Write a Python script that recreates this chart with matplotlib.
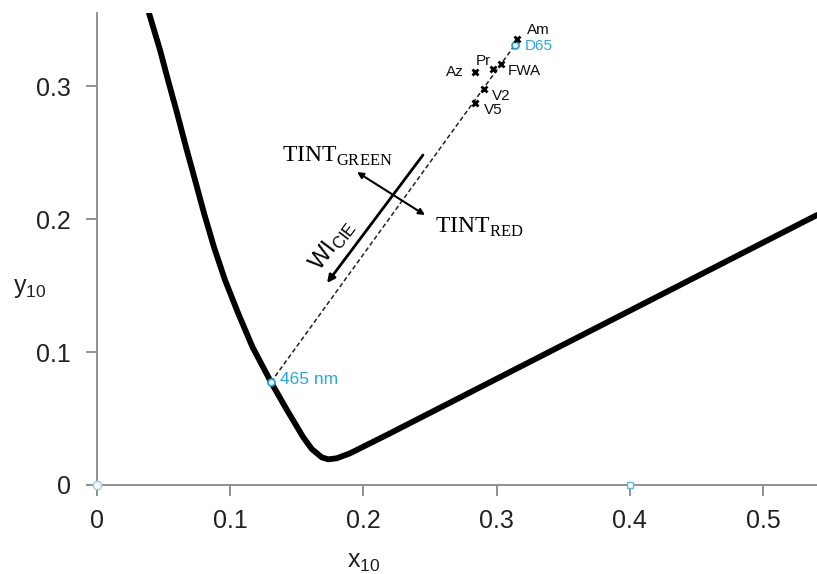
import numpy as np
import matplotlib.pyplot as plt

# spectral locus (lower part) and purple line
locus_x = [0.0390, 0.0473, 0.0533, 0.0601, 0.0668, 0.0736, 0.0803, 0.0878, 0.0961,
           0.1059, 0.1167, 0.1306, 0.1426, 0.1547, 0.1612, 0.1687, 0.1736, 0.1800,
           0.1899, 0.2025, 0.2175, 0.5405]
locus_y = [0.3549, 0.3271, 0.3045, 0.2797, 0.2541, 0.2293, 0.2045, 0.1789, 0.1541,
           0.1293, 0.1038, 0.0774, 0.0564, 0.0361, 0.0271, 0.0208, 0.0193, 0.0201,
           0.0238, 0.0301, 0.0376, 0.2030]

# dominant wavelength point and white point
nm465 = (0.1306, 0.0774)
d65 = (0.3138, 0.3310)

# samples
samples = ['Am', 'Pr', 'FWA', 'Az', 'V2', 'V5']
samp_x = [0.3156, 0.2971, 0.3033, 0.2838, 0.2905, 0.2838]
samp_y = [0.3353, 0.3126, 0.3163, 0.3108, 0.2975, 0.2875]
# label offsets (points) and alignment
samp_off = [(7, 6.5), (-7, 6), (4.5, -5), (-8, 0), (6, -4.5), (6.5, -5)]
samp_ha = ['left', 'center', 'left', 'right', 'left', 'left']

xticks = [0, 0.1, 0.2, 0.3, 0.4, 0.5]
yticks = [0, 0.1, 0.2, 0.3]
xticklabels = ['0', '0.1', '0.2', '0.3', '0.4', '0.5']
yticklabels = ['0', '0.1', '0.2', '0.3']

blue = '#22a9e6'
sans = ['Liberation Sans', 'DejaVu Sans']
serif = ['Liberation Serif', 'DejaVu Serif']
plt.rcParams['font.family'] = sans
plt.rcParams['mathtext.fontset'] = 'custom'
plt.rcParams['mathtext.rm'] = 'Liberation Sans'

fig = plt.figure(figsize=(8.17, 5.74), dpi=100)
ax = fig.add_axes([97 / 817, 89 / 574, 720 / 817, 472 / 574])
ax.set_xlim(0, 0.5405)
ax.set_ylim(0, 0.3549)

ax.plot(locus_x, locus_y, color='black', lw=4.2, solid_joinstyle='round',
        solid_capstyle='round', zorder=3)

# WI line from 465 nm to D65
ax.plot([nm465[0], d65[0]], [nm465[1], d65[1]], color='#222222', lw=1.1,
        linestyle=(0, (3, 1.8)), zorder=2)

ax.plot(*nm465, 'o', ms=5, mfc='#dff3fb', mec='#2aa0c8', mew=1.3, zorder=5)
ax.annotate('465 nm', nm465, xytext=(6.5, 2), textcoords='offset points',
            ha='left', va='center', fontsize=12.5, color=blue)

ax.plot(*d65, 'o', ms=5, mfc='#dff3fb', mec='#2aa0c8', mew=1.3, zorder=5)
ax.annotate('D65', d65, xytext=(7, -0.7), textcoords='offset points',
            ha='left', va='center', fontsize=11, color=blue)

ax.plot(samp_x, samp_y, 'x', color='black', ms=5, mew=2, linestyle='none', zorder=6)
for name, sx, sy, off, ha in zip(samples, samp_x, samp_y, samp_off, samp_ha):
    ax.annotate(name, (sx, sy), xytext=off, textcoords='offset points',
                ha=ha, va='center', fontsize=11, color='#111111')

# tint arrow (double headed)
ax.annotate('', xy=(0.1952, 0.2353), xytext=(0.2462, 0.2030),
            arrowprops=dict(arrowstyle='<|-|>', lw=1.5, color='black',
                            mutation_scale=9, shrinkA=0, shrinkB=0))
# whiteness arrow
ax.annotate('', xy=(0.1727, 0.1519), xytext=(0.2447, 0.2481),
            arrowprops=dict(arrowstyle='-|>', lw=2, color='black',
                            mutation_scale=11, shrinkA=0, shrinkB=0))

ax.text(0.1389, 0.2429, r'TINT$_{\mathregular{GREEN}}$', fontsize=17, family=serif,
        ha='left', va='baseline')
ax.text(0.2538, 0.1895, r'TINT$_{\mathregular{RED}}$', fontsize=17, family=serif,
        ha='left', va='baseline')
ax.text(0.1764, 0.1805, r'WI$_{\mathregular{CIE}}$', fontsize=17, rotation=53,
        rotation_mode='anchor', ha='center', va='center')

# small markers on the axis
ax.plot(0, 0, 'o', ms=6, mfc='#f2fafd', mec='#9fcfe0', mew=1, clip_on=False, zorder=7)
ax.plot(0.4, 0, 's', ms=4.5, mfc='#f2fafd', mec='#6fb6d6', mew=1, clip_on=False, zorder=7)

for side in ['top', 'right']:
    ax.spines[side].set_visible(False)
for side in ['left', 'bottom']:
    ax.spines[side].set_color('#888888')
    ax.spines[side].set_linewidth(1.3)

ax.set_xticks(xticks)
ax.set_xticklabels(xticklabels)
ax.set_yticks(yticks)
ax.set_yticklabels(yticklabels)
ax.tick_params(axis='x', direction='out', length=8, width=1.3, color='#888888',
               labelsize=18, labelcolor='#222222', pad=9)
ax.tick_params(axis='y', direction='out', length=8, width=1.3, color='#888888',
               labelsize=18, labelcolor='#222222', pad=11)

fig.text(364 / 817, 1 - 562 / 574, r'x$_{\mathregular{10}}$', fontsize=18,
         ha='center', va='center', color='#222222')
fig.text(30 / 817, 1 - 288 / 574, r'y$_{\mathregular{10}}$', fontsize=18,
         ha='center', va='center', color='#222222')

fig.savefig('out.png', dpi=100)
